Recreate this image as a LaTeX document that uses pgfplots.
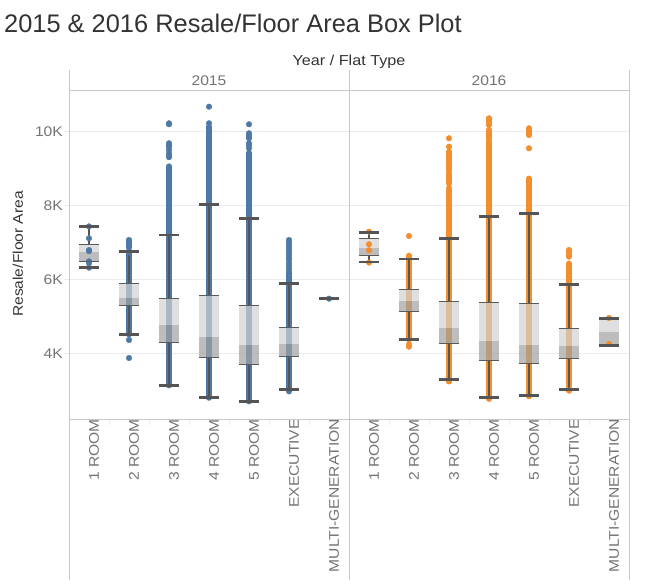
\documentclass[border=0pt]{standalone}
\usepackage{pgfplots}
\pgfplotsset{compat=1.18}
\usepackage{fontspec}
\setmainfont{Liberation Sans}
\newfontfamily\tabfont{Liberation Sans}[FakeStretch=1.12]
\definecolor{tblue}{HTML}{4E79A7}
\definecolor{torange}{HTML}{F28E2B}
\definecolor{boxl}{HTML}{D2D2D2}
\definecolor{boxd}{HTML}{A1A1A1}
\definecolor{whc}{HTML}{555555}
\definecolor{capc}{HTML}{555555}
\definecolor{edgec}{HTML}{5A5A5A}
\definecolor{gridc}{HTML}{EBEBEB}
\definecolor{framec}{HTML}{C8C8C8}
\definecolor{tickc}{HTML}{737373}
\definecolor{titc}{HTML}{333333}
% x, lower whisker, q1, median, q3, upper whisker
\newcommand\bp[6]{%
 \addplot[whc, line width=1.3bp] coordinates {(#1,#2) (#1,#3)};
 \addplot[whc, line width=1.3bp] coordinates {(#1,#5) (#1,#6)};
 \addplot[boxd, line width=20bp, opacity=.7] coordinates {(#1,#3) (#1,#4)};
 \addplot[boxl, line width=20bp, opacity=.7] coordinates {(#1,#4) (#1,#5)};
 \addplot[only marks, mark=-, mark size=10bp, mark options={line width=1bp, draw=edgec}] coordinates {(#1,#3) (#1,#5)};
 \addplot[only marks, mark=-, mark size=10bp, mark options={line width=2.5bp, draw=capc}] coordinates {(#1,#2) (#1,#6)};
}
\newcommand\strip[4]{% x, low, high, colour
 \addplot[#4, line width=5.4bp, line cap=round] coordinates {(#1,#2) (#1,#3)};
}
\begin{document}
\begin{tikzpicture}
\begin{axis}[
 at={(69bp,165bp)}, anchor=south west,
 scale only axis, width=560bp, height=329bp,
 xmin=-0.5, xmax=13.5, ymin=2224, ymax=11116,
 scaled y ticks=false,
 axis line style={draw=none},
 tick style={draw=none},
 ytick={4000,6000,8000,10000}, yticklabels={4K,6K,8K,10K},
 ymajorgrids, grid style={draw=gridc, line width=0.8bp},
 xtick={0,...,13},
 xticklabels={1 ROOM,2 ROOM,3 ROOM,4 ROOM,5 ROOM,EXECUTIVE,MULTI-GENERATION,1 ROOM,2 ROOM,3 ROOM,4 ROOM,5 ROOM,EXECUTIVE,MULTI-GENERATION},
 x tick label style={rotate=90, anchor=east, font=\tabfont\fontsize{14}{15}\selectfont, text=tickc, inner sep=0pt, yshift=-5bp},
 y tick label style={font=\tabfont\fontsize{14}{15}\selectfont, text=tickc, inner sep=0pt, xshift=-6bp},
]
% ---------- 2015 points ----------
\addplot[only marks, mark=*, mark size=2.8bp, tblue] coordinates {
 (0,7430) (0,7108) (0,6790) (0,6760) (0,6486) (0,6440) (0,6314)
 (1,7062) (1,7030) (1,6990) (1,6950) (1,6900) (1,6860) (1,6760) (1,6720) (1,4360) (1,3873)
 (2,10216) (2,10190) (2,9676) (2,9620) (2,9584) (2,9500) (2,9405) (2,9340) (2,9300)
 (3,10665) (3,10216)
 (4,10189) (4,9946) (4,9900) (4,9850) (4,9811) (4,9676) (4,9620) (4,9541)
 (5,7062) (5,6990) (5,6927) (5,6860) (5,6792) (5,6720) (5,6657) (5,6590) (5,6522) (5,6432) (5,6360) (5,6280)
 (6,5476)
};
\strip{1}{4503}{6680}{tblue}
\strip{2}{3124}{9060}{tblue}
\strip{3}{2790}{10124}{tblue}
\strip{4}{2692}{9420}{tblue}
\strip{5}{2963}{6205}{tblue}
% ---------- 2016 points ----------
\addplot[only marks, mark=*, mark size=2.8bp, torange] coordinates {
 (7,7287) (7,6946) (7,6784) (7,6451)
 (8,7170) (8,6638) (8,6600) (8,4240) (8,4178)
 (9,9811) (9,9584) (9,9449) (9,9400) (9,9360) (9,9300) (9,9250) (9,9180) (9,9120) (9,9060) (9,9000) (9,8950)
 (9,8860) (9,8800) (9,8740) (9,8680) (9,8620) (9,8590) (9,8460) (9,8400) (9,8340) (9,8280) (9,8220) (9,8160)
 (9,8100) (9,8040) (9,7980) (9,7920) (9,7870)
 (10,10351) (10,10310) (10,10270) (10,10230) (10,10170) (10,10035) (10,9990) (10,9940) (10,9900) (10,9854) (10,9790)
 (11,10081) (11,10050) (11,10010) (11,9970) (11,9930) (11,9900) (11,9541)
 (12,6792) (12,6750) (12,6700) (12,6650) (12,6611) (12,2990)
 (13,4954) (13,4251)
};
\strip{8}{4368}{6560}{torange}
\strip{9}{3230}{7830}{torange}
\strip{10}{2760}{9720}{torange}
\strip{11}{2830}{8730}{torange}
\strip{12}{3100}{6432}{torange}
% ---------- boxes ----------
\bp{0}{6314}{6486}{6738}{6946}{7422}
\bp{1}{4503}{5297}{5495}{5892}{6746}
\bp{2}{3124}{4297}{4765}{5486}{7197}
\bp{3}{2800}{3892}{4441}{5568}{8016}
\bp{4}{2692}{3703}{4224}{5297}{7638}
\bp{5}{3016}{3919}{4251}{4703}{5881}
\bp{6}{5476}{5476}{5476}{5476}{5476}
\bp{7}{6468}{6649}{6846}{7108}{7259}
\bp{8}{4368}{5135}{5414}{5730}{6549}
\bp{9}{3286}{4270}{4684}{5405}{7097}
\bp{10}{2800}{3811}{4332}{5378}{7692}
\bp{11}{2854}{3730}{4224}{5351}{7773}
\bp{12}{3016}{3865}{4197}{4676}{5854}
\bp{13}{4216}{4232}{4576}{4920}{4935}
\end{axis}
% small tick decorations
\foreach \yy in {230.7,304.7,378.7,452.7} {
 \draw[gridc, line width=0.8bp] (64bp,\yy bp) -- (69bp,\yy bp);
}
\foreach \xx in {109,149,189,229,269,309,389,429,469,509,549,589} {
 \draw[gridc, line width=0.8bp] (\xx bp,165bp) -- (\xx bp,159bp);
}
% frame lines
\draw[framec, line width=0.9bp] (69bp,514bp) -- (69bp,4bp);
\draw[framec, line width=0.9bp] (349bp,514bp) -- (349bp,4bp);
\draw[framec, line width=0.9bp] (629bp,514bp) -- (629bp,4bp);
\draw[framec, line width=0.9bp] (69bp,494bp) -- (629bp,494bp);
\draw[framec, line width=0.9bp] (69bp,165bp) -- (629bp,165bp);
% texts
\node[anchor=base west, inner sep=0pt, text=titc, font=\fontsize{25.5}{28}\selectfont] at (4bp,551bp) {2015 \& 2016 Resale/Floor Area Box Plot};
\node[anchor=base, inner sep=0pt, text=titc, font=\tabfont\fontsize{14.5}{16}\selectfont] at (349bp,518bp) {Year / Flat Type};
\node[anchor=base, inner sep=0pt, text=tickc, font=\tabfont\fontsize{14}{15}\selectfont] at (209bp,498bp) {2015};
\node[anchor=base, inner sep=0pt, text=tickc, font=\tabfont\fontsize{14}{15}\selectfont] at (489bp,498bp) {2016};
\node[rotate=90, inner sep=0pt, text=titc, font=\tabfont\fontsize{14}{15}\selectfont] at (18bp,330bp) {Resale/Floor Area};
\pgfresetboundingbox
\useasboundingbox (0,0) rectangle (665bp,584bp);
\end{tikzpicture}
\end{document}
